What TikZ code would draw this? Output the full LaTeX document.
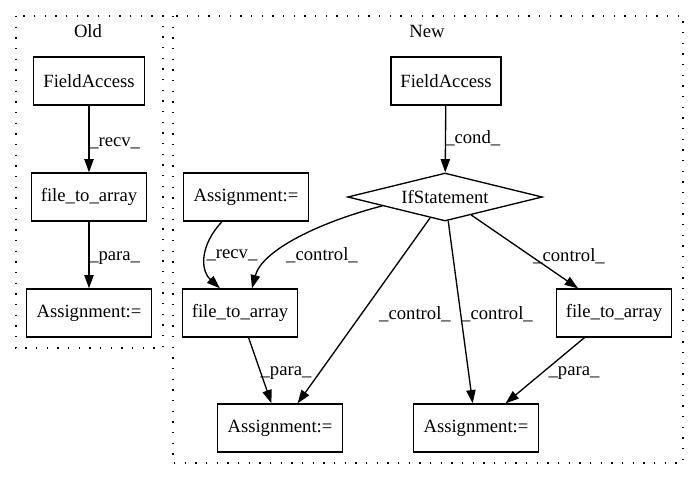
\documentclass[tikz,border=0pt]{standalone}
\usepackage{fontspec}
\setmainfont{Liberation Serif}
\usetikzlibrary{shapes.geometric,arrows.meta,calc}
\begin{document}
\begin{tikzpicture}[x=0.75pt,y=0.75pt,
  box/.style={draw=black,line width=1pt,rectangle,minimum height=36pt,inner sep=0pt,font=\fontsize{14}{16}\selectfont},
  decision/.style={draw=black,line width=1pt,diamond,aspect=4.06,minimum width=146pt,minimum height=36pt,inner sep=0pt,font=\fontsize{14}{16}\selectfont},
  lbl/.style={inner sep=0pt,font=\fontsize{14}{16}\selectfont},
  edge/.style={draw=black,line width=1pt,-{Triangle[length=10pt,width=7pt]}},
  clusterbox/.style={draw=black,line width=1pt,dash pattern=on 1pt off 7pt}]
\useasboundingbox (0,0) rectangle (699,-480);
% clusters
\draw[clusterbox] (16,-16) rectangle (163,-348);
\draw[clusterbox] (173,-16) rectangle (683,-463);
\node[lbl] (oldT) at (88,-31) {Old};
\node[lbl] (newT) at (427,-31) {New};
% Old nodes
\node[box,minimum width=83pt] (oFA) at (89,-81) {FieldAccess};
\node[box,minimum width=86pt] (oF2A) at (89,-197) {file\_to\_array};
\node[box,minimum width=94pt] (oAs) at (89,-313) {Assignment:=};
% New nodes
\node[box,minimum width=82.5pt] (nFA) at (446,-81) {FieldAccess};
\node[decision] (If) at (445,-197) {IfStatement};
\node[box,minimum width=94pt] (As1) at (246,-197) {Assignment:=};
\node[box,minimum width=86pt] (F2A1) at (240,-313) {file\_to\_array};
\node[box,minimum width=86pt] (F2A2) at (614,-313) {file\_to\_array};
\node[box,minimum width=94pt] (As2) at (280,-428) {Assignment:=};
\node[box,minimum width=94pt] (As3) at (476,-428) {Assignment:=};
% Old edges
\draw[edge] (oFA) -- (oF2A);
\node[lbl,anchor=west] (l1) at (89,-143) {\_recv\_};
\draw[edge] (oF2A) -- (oAs);
\node[lbl,anchor=west] (l2) at (89,-258) {\_para\_};
% New edges
\draw[edge] (nFA) -- (If);
\node[lbl,anchor=west] (l3) at (445,-138) {\_cond\_};
\draw[edge] ($(As1.south)+(-24,0)$) .. controls (200,-245) and (200,-270) .. ($(F2A1.north)+(-20,0)$);
\node[lbl] (l4) at (232,-255) {\_recv\_};
\draw[edge] ($(If.west)!0.36!(If.south)$) .. controls (320,-222) and (262,-250) .. ($(F2A1.north)+(12,0)$);
\node[lbl] (l5) at (322,-255) {\_control\_};
\draw[edge] (If) -- (As2);
\node[lbl] (l6) at (415,-314) {\_control\_};
\draw[edge] (If) -- (As3);
\node[lbl] (l7) at (497,-314) {\_control\_};
\draw[edge] (If) -- (F2A2);
\node[lbl] (l8) at (569,-256) {\_control\_};
\draw[edge] (F2A1) -- (As2);
\node[lbl] (l9) at (286,-373) {\_para\_};
\draw[edge] (F2A2) -- (As3);
\node[lbl] (l10) at (574,-373) {\_para\_};
\end{tikzpicture}
\end{document}
